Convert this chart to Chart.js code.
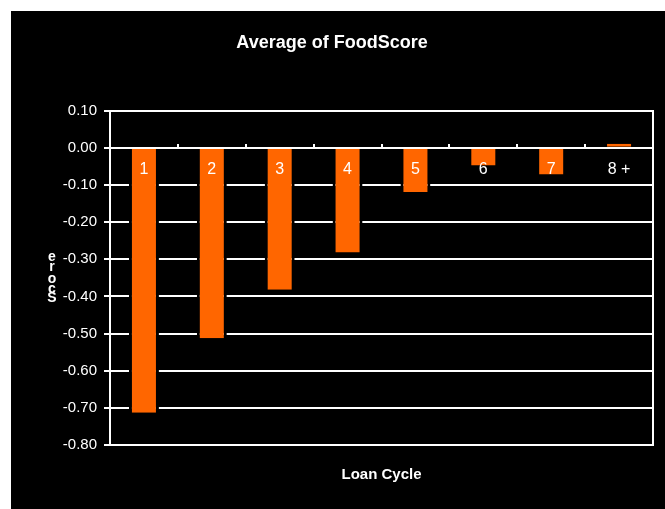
<!DOCTYPE html>
<html>
<head>
<meta charset="utf-8">
<script src="https://cdn.jsdelivr.net/npm/chart.js@4.4.1/dist/chart.umd.min.js"></script>
<style>
    body { margin: 0; background: #fff; overflow: hidden; }
    #wrap { position: absolute; left: 11px; top: 11px; width: 665px; height: 498px; background: #000; }
</style>
</head>
<body>
<div id="wrap"><canvas id="chart" width="665" height="498"></canvas></div>
<script>
// Chart data
const loanCycles = ["1", "2", "3", "4", "5", "6", "7", "8 +"];
const foodScores = [-0.713, -0.513, -0.382, -0.282, -0.119, -0.048, -0.072, 0.011];
const yTicks = [0.10, 0.00, -0.10, -0.20, -0.30, -0.40, -0.50, -0.60, -0.70, -0.80];

// Y axis title letters, stacked upright (top to bottom)
const yTitleLetters = ["e", "r", "o", "c", "S"];
const yTitleOffsets = [246, 256, 268, 278, 287];

const FONT = "'Liberation Sans', Arial, sans-serif";

const stackedTitle = {
    id: "stackedTitle",
    afterDraw(chart) {
        const ctx = chart.ctx;
        ctx.save();
        ctx.fillStyle = "#fff";
        ctx.font = "bold 14px " + FONT;
        ctx.textAlign = "center";
        ctx.textBaseline = "middle";
        yTitleLetters.forEach((ch, i) => ctx.fillText(ch, 41, yTitleOffsets[i]));
        ctx.restore();
    }
};

new Chart(document.getElementById("chart"), {
    type: "bar",
    data: {
        labels: loanCycles,
        datasets: [{
            label: "Average of FoodScore",
            data: foodScores,
            backgroundColor: "#FF6600",
            borderColor: "#000",
            borderWidth: { left: 3, right: 3, top: 0, bottom: 0 },
            borderSkipped: false,
            barPercentage: 0.442,
            categoryPercentage: 1,
            xAxisID: "x",
            yAxisID: "y"
        }]
    },
    options: {
        responsive: false,
        animation: false,
        layout: { padding: { left: 0, right: 23, top: 0, bottom: 0 } },
        plugins: {
            legend: { display: false },
            tooltip: { enabled: false },
            title: {
                display: true,
                text: "Average of FoodScore",
                color: "#fff",
                font: { family: FONT, size: 18, weight: "bold" },
                padding: { top: 21, bottom: 57 }
            }
        },
        scales: {
            x: {
                position: { y: 0 },
                grid: { drawOnChartArea: false, drawTicks: true, tickLength: -5, color: "#fff", lineWidth: 2, z: 1 },
                border: { color: "#fff", width: 2, z: 1 },
                ticks: { color: "#fff", font: { family: FONT, size: 16 }, padding: 17, z: 1 }
            },
            x2: {
                position: "bottom",
                labels: loanCycles,
                grid: { display: false, drawTicks: false },
                border: { display: false },
                ticks: { display: false },
                title: {
                    display: true,
                    text: "Loan Cycle",
                    color: "#fff",
                    font: { family: FONT, size: 15, weight: "bold" },
                    padding: { top: 21, bottom: 25 }
                },
                afterFit: s => { s.height = 64; }
            },
            y: {
                position: "left",
                min: -0.8,
                max: 0.1,
                afterBuildTicks: s => { s.ticks = yTicks.map(v => ({ value: v })); },
                grid: { color: "#fff", lineWidth: 2, tickLength: 6 },
                border: { color: "#fff", width: 2 },
                ticks: {
                    color: "#fff",
                    font: { family: FONT, size: 15 },
                    padding: 7,
                    callback: v => (Math.abs(v) < 1e-9 ? 0 : v).toFixed(2)
                },
                afterFit: s => { s.width = 99; }
            },
            yR: {
                position: "right",
                grid: { display: false, drawTicks: false },
                border: { color: "#fff", width: 2 },
                ticks: { display: false },
                afterFit: s => { s.width = 0; }
            }
        }
    },
    plugins: [stackedTitle]
});
</script>
</body>
</html>
